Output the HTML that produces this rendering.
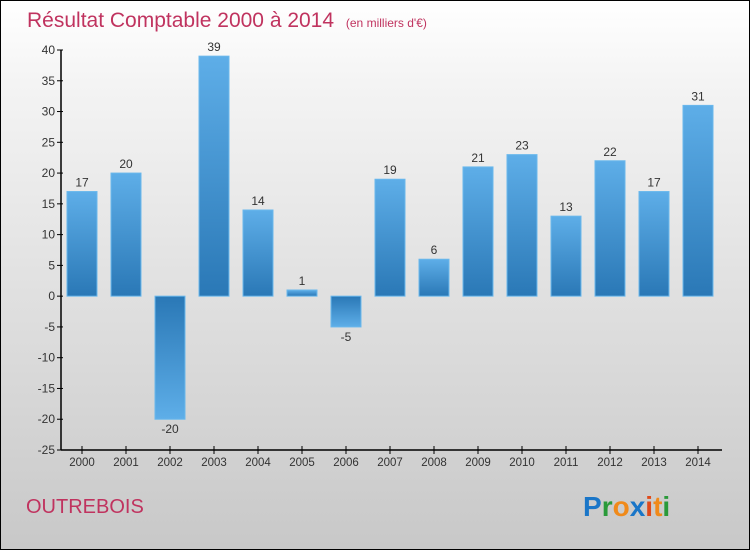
<!DOCTYPE html>
<html><head><meta charset="utf-8"><style>
body{margin:0}
svg{display:block;font-family:"Liberation Sans",sans-serif}
</style></head><body>
<svg id="c" width="750" height="550">
<defs>
<linearGradient id="bg" x1="0" y1="0" x2="0" y2="1"><stop offset="0" stop-color="#ffffff"/><stop offset="0.15" stop-color="#f4f4f4"/><stop offset="1" stop-color="#c8c8c8"/></linearGradient>
<linearGradient id="gp" x1="0" y1="0" x2="0" y2="1"><stop offset="0" stop-color="#5eaee8"/><stop offset="1" stop-color="#2a78b6"/></linearGradient>
<linearGradient id="gn" x1="0" y1="0" x2="0" y2="1"><stop offset="0" stop-color="#2a78b6"/><stop offset="1" stop-color="#5eaee8"/></linearGradient>
</defs>
<rect x="0.5" y="0.5" width="749" height="549" fill="url(#bg)" stroke="#000"/>
<text x="27" y="27" font-size="21" fill="#c0335f">Résultat Comptable 2000 à 2014 <tspan font-size="12" dx="6">(en milliers d'€)</tspan></text>
<g id="plot"></g>
<text x="26" y="513" font-size="20" fill="#c0335f">OUTREBOIS</text>
<text x="583" y="516" font-size="28" font-weight="bold"><tspan fill="#1a76c8">P</tspan><tspan fill="#2a9a3a">r</tspan><tspan fill="#f08a1a">o</tspan><tspan fill="#1a76c8">x</tspan><tspan fill="#e04a1a">i</tspan><tspan fill="#f08a1a">t</tspan><tspan fill="#2a9a3a">i</tspan></text>
</svg>
<script>
const categories=["2000","2001","2002","2003","2004","2005","2006","2007","2008","2009","2010","2011","2012","2013","2014"];
const values=[17,20,-20,39,14,1,-5,19,6,21,23,13,22,17,31];
const yTicks=[40,35,30,25,20,15,10,5,0,-5,-10,-15,-20,-25];
const NS="http://www.w3.org/2000/svg";
const g=document.getElementById('plot');
const y=v=>50+(40-v)*400/65;
const x=i=>82+i*44;
function el(t,a,txt){const e=document.createElementNS(NS,t);for(const k in a)e.setAttribute(k,a[k]);if(txt!==undefined)e.textContent=txt;g.appendChild(e);return e;}
values.forEach((v,i)=>{
 const top=Math.min(y(v),y(0)),h=Math.abs(y(v)-y(0));
 const r=el('rect',{x:x(i)-15,y:top,width:30,height:Math.max(h,1),fill:v>=0?'url(#gp)':'url(#gn)',stroke:'#6ab8ec','stroke-width':1});
 
 
 const t=el('text',{x:x(i),y:v>=0?top-5:top+h+14,'text-anchor':'middle','font-size':12,fill:'#333'},String(v));
 
 
});
const ya=el('line',{x1:61,y1:50,x2:61,y2:450,stroke:'#000','stroke-width':1.5});


const xa=el('line',{x1:61,y1:450,x2:722,y2:450,stroke:'#000','stroke-width':1.5});


yTicks.forEach(v=>{
 el('line',{x1:57,y1:y(v),x2:63,y2:y(v),stroke:'#000'});
 const t=el('text',{x:55,y:y(v)+4,'text-anchor':'end','font-size':12,fill:'#333'},String(v));
 
 
});
categories.forEach((c,i)=>{
 el('line',{x1:x(i),y1:446,x2:x(i),y2:454,stroke:'#000'});
 const t=el('text',{x:x(i),y:466,'text-anchor':'middle','font-size':11.5,fill:'#333'},c);
 
 
});
</script>
</body></html>
